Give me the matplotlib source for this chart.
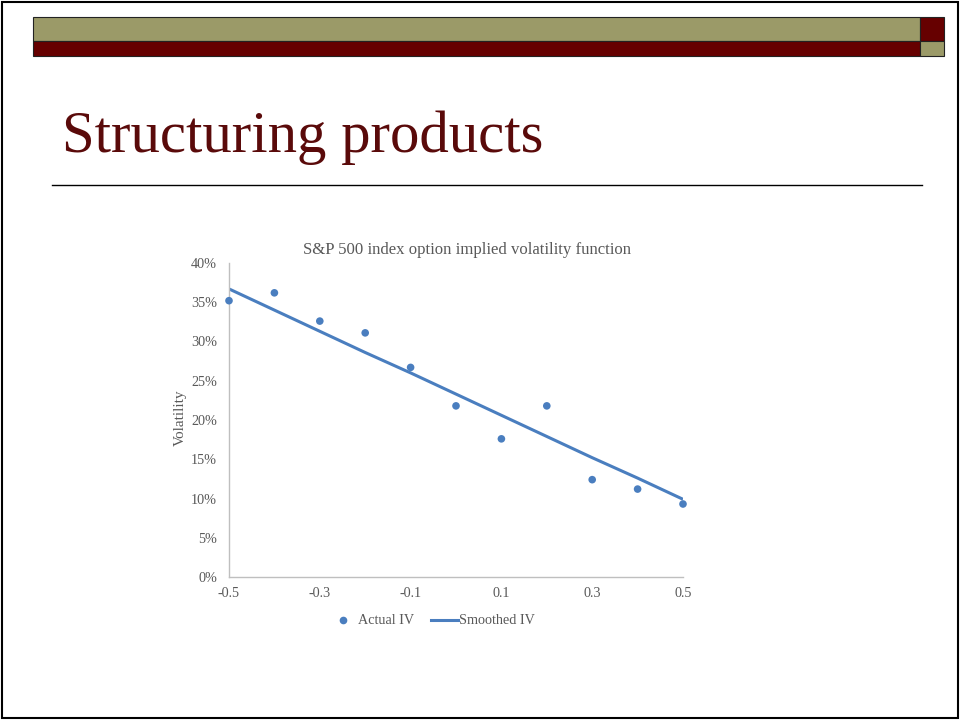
import numpy as np
import matplotlib.pyplot as plt
import matplotlib.patches as mpatches
from matplotlib.lines import Line2D
from matplotlib.ticker import FuncFormatter

# moneyness grid and implied vols (in %)
moneyness = [-0.5, -0.4, -0.3, -0.2, -0.1, 0.0, 0.1, 0.2, 0.3, 0.4, 0.5]
actual_iv = [35.2, 36.2, 32.6, 31.1, 26.7, 21.8, 17.6, 21.8, 12.4, 11.2, 9.3]
smoothed_iv = [36.7, 34.0, 31.3, 28.6, 26.0, 23.3, 20.6, 17.9, 15.2, 12.6, 9.9]

x_ticks = [-0.5, -0.3, -0.1, 0.1, 0.3, 0.5]
y_ticks = [0, 5, 10, 15, 20, 25, 30, 35, 40]

W, H = 961, 721
OLIVE = "#9b9a68"
MAROON = "#660000"
BLUE = "#4a7ebf"
GREY = "#595959"
SERIF = "Liberation Serif"

fig = plt.figure(figsize=(W / 100, H / 100), dpi=100)


def px(x, y):
    # pixel position (y from the top) -> figure fraction
    return x / W, 1 - y / H


def box(x0, y0, x1, y1, **kw):
    r = mpatches.Rectangle(px(x0, y1), (x1 - x0) / W, (y1 - y0) / H,
                           transform=fig.transFigure, **kw)
    fig.add_artist(r)


# slide frame
box(2, 2, 958, 718, facecolor="none", edgecolor="black", lw=1.5)

# header bars
box(33, 17, 920, 41, facecolor=OLIVE, edgecolor="#222222", lw=0.8)
box(33, 41, 920, 56, facecolor=MAROON, edgecolor="#222222", lw=0.8)
box(920, 17, 944, 41, facecolor=MAROON, edgecolor="#222222", lw=0.8)
box(920, 41, 944, 56, facecolor=OLIVE, edgecolor="#222222", lw=0.8)

fig.text(*px(62, 152), "Structuring products", family=SERIF,
         fontsize=42.3, color="#5a0a0a", va="baseline", ha="left")
fig.add_artist(Line2D([52 / W, 922 / W], [1 - 185 / H, 1 - 185 / H],
                      transform=fig.transFigure, color="black", lw=1))

# chart
ax = fig.add_axes([229 / W, 1 - 577 / H, 454 / W, 314 / H])
ax.plot(moneyness, smoothed_iv, color=BLUE, lw=2.2, zorder=2,
        solid_capstyle="butt")
ax.scatter(moneyness, actual_iv, s=30, color=BLUE, zorder=3,
           edgecolors="none", clip_on=False)

ax.set_xlim(-0.5, 0.5)
ax.set_ylim(0, 40)
ax.set_xticks(x_ticks)
ax.set_yticks(y_ticks)
ax.xaxis.set_major_formatter(FuncFormatter(lambda v, p: f"{v:g}"))
ax.yaxis.set_major_formatter(FuncFormatter(lambda v, p: f"{v:.0f}%"))
ax.tick_params(length=0, labelsize=10.2, labelcolor=GREY)
ax.tick_params(axis="y", pad=8.5)
ax.tick_params(axis="x", pad=7.5)
for lab in ax.get_xticklabels() + ax.get_yticklabels():
    lab.set_family(SERIF)
for s in ["top", "right"]:
    ax.spines[s].set_visible(False)
for s in ["left", "bottom"]:
    ax.spines[s].set_color("#bfbfbf")
    ax.spines[s].set_linewidth(1)

fig.text(*px(180, 418), "Volatility", family=SERIF, fontsize=11,
         color=GREY, rotation=90, ha="center", va="center")
fig.text(*px(467, 250), "S&P 500 index option implied volatility function",
         family=SERIF, fontsize=12.1, color=GREY, ha="center", va="center")

handles = [
    Line2D([], [], ls="none", marker="o", ms=5.5, color=BLUE, mec="none"),
    Line2D([], [], color=BLUE, lw=2.2),
]
leg = fig.legend(handles, ["Actual IV", "Smoothed IV"], loc="center left",
                 bbox_to_anchor=px(329.5, 621), ncol=2, frameon=False,
                 prop={"family": SERIF, "size": 10.2}, handlelength=1.9,
                 handletextpad=0.1, columnspacing=1.2, borderpad=0,
                 borderaxespad=0)
for t in leg.get_texts():
    t.set_color(GREY)

fig.savefig("out.png", dpi=100)
